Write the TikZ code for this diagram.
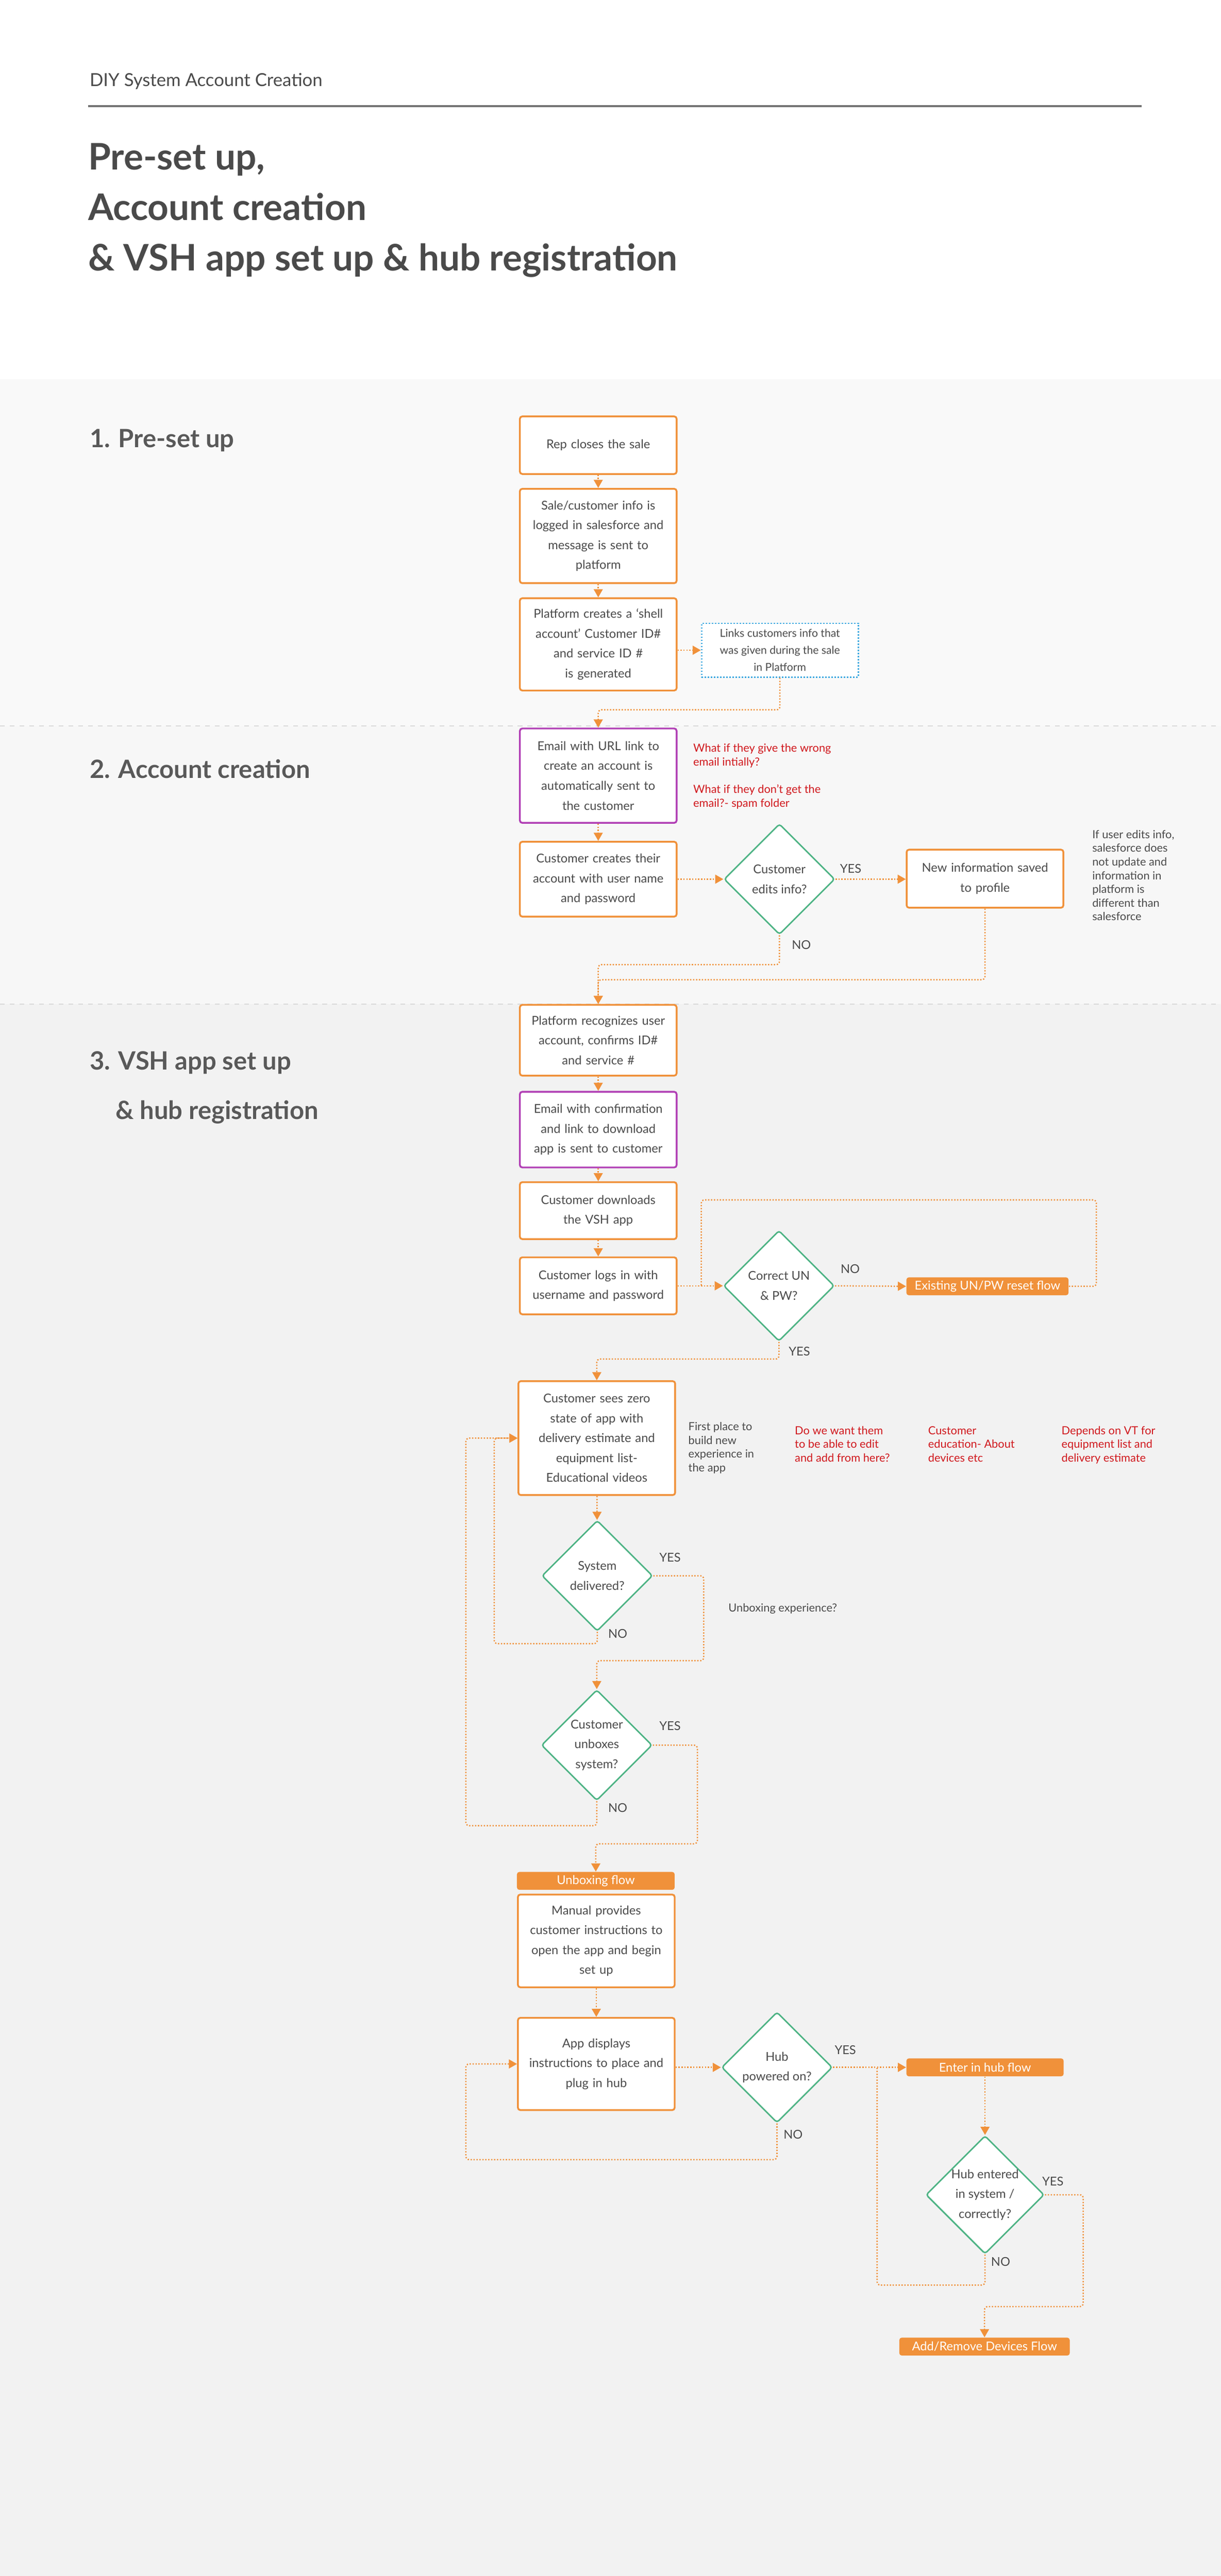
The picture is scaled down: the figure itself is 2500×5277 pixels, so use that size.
\documentclass[tikz,border=0pt]{standalone}
\usepackage{fontspec}
\setmainfont{Lato}
\usetikzlibrary{shapes.geometric,arrows.meta}
\definecolor{orng}{HTML}{F0913A}
\definecolor{grn}{HTML}{4DB384}
\definecolor{purp}{HTML}{B13FB5}
\definecolor{blu}{HTML}{3DA8E0}
\definecolor{redt}{HTML}{D0181D}
\definecolor{txt}{HTML}{4A4A4A}
\definecolor{bgA}{HTML}{F9F9F9}
\definecolor{bgB}{HTML}{F7F7F7}
\definecolor{bgC}{HTML}{F2F2F2}
\begin{document}
\begin{tikzpicture}[x=0.3pt,y=-0.3pt,
  every node/.style={text=txt},
  bfont/.style={font=\fontsize{7.5}{12.2}\selectfont},
  box/.style={bfont,draw=orng,line width=1.1pt,fill=white,rounded corners=1.5pt,minimum width=96.3pt,text width=94pt,inner xsep=1pt,align=center},
  pbox/.style={box,draw=purp},
  fbox/.style={bfont,fill=orng,text=white,rounded corners=1.5pt,minimum width=96.9pt,minimum height=11pt,inner sep=0pt,align=center},
  dia/.style={bfont,diamond,draw=grn,line width=0.9pt,fill=white,minimum width=68pt,minimum height=68pt,inner sep=0pt,align=center,rounded corners=1.5pt},
  conn/.style={draw=orng,densely dotted,line width=0.8pt,rounded corners=2pt},
  arr/.style={conn,-{Triangle[length=5pt,width=5.5pt]}},
  lbl/.style={bfont},
  note/.style={font=\fontsize{6.9}{8.4}\selectfont,align=left,anchor=north west,inner sep=0pt},
  rnote/.style={note,text=redt},
  head/.style={font=\fontsize{15.5}{18}\selectfont\bfseries,text=black!65,anchor=west,inner sep=0pt}]
\useasboundingbox (0,0) rectangle (2500,5277);
% backgrounds
\fill[white] (0,0) rectangle (2500,777);
\fill[bgA] (0,777) rectangle (2500,1487);
\fill[bgB] (0,1487) rectangle (2500,2057);
\fill[bgC] (0,2057) rectangle (2500,5277);
\draw[black!15,dashed,line width=0.6pt] (0,1487) -- (2500,1487);
\draw[black!15,dashed,line width=0.6pt] (0,2057) -- (2500,2057);
% header
\node[anchor=west,inner sep=0pt,font=\fontsize{11}{13}\selectfont] (hdr) at (183,166) {DIY System Account Creation};
\draw[black!55,line width=1.2pt] (180,217) -- (2338,217);
\node[anchor=north west,inner sep=0pt,align=left,font=\fontsize{22.5}{31}\selectfont\bfseries] (ttl) at (180,293) {Pre-set up,\\Account creation\\\& VSH app set up \& hub registration};
\node[head] (h1) at (183,902) {1. Pre-set up};
\node[head] (h2) at (183,1575) {2. Account creation};
\node[head] (h3) at (183,2177) {3. VSH app set up};
\node[head] (h3b) at (236,2278) {\& hub registration};
% section 1
\node[box,minimum height=35.4pt] (b1) at (1225,912) {Rep closes the sale};
\node[box,minimum height=58pt] (b2) at (1225,1098) {Sale/customer info is\\logged in salesforce and\\message is sent to\\platform};
\node[box,minimum height=56.7pt] (b3) at (1225,1320) {Platform creates a `shell\\account' Customer ID\#\\and service ID \#\\is generated};
\node[bfont,draw=blu,densely dotted,line width=0.9pt,fill=white,minimum width=96.3pt,minimum height=33pt,align=center,font=\fontsize{6.7}{10.4}\selectfont] (bl) at (1597,1332) {Links customers info that\\was given during the sale\\in Platform};
\draw[arr] (b1) -- (b2);
\draw[arr] (b2) -- (b3);
\draw[arr] (b3.east |- bl.west) -- (bl.west);
\coordinate (k1) at (0,1454);
\node[pbox,minimum height=58pt] (e1) at (1225,1589) {Email with URL link to\\create an account is\\automatically sent to\\the customer};
\draw[arr] (bl.south) -- (bl.south |- k1) -| (e1.north);
% section 2
\node[rnote] (r1) at (1419,1523) {What if they give the wrong\\email intially?};
\node[rnote] (r2) at (1419,1607) {What if they don't get the\\email?- spam folder};
\node[box,minimum height=46pt] (cc) at (1225,1801) {Customer creates their\\account with user name\\and password};
\node[dia] (d1) at (1596,1801) {Customer\\edits info?};
\node[box,minimum height=35.7pt] (ni) at (2017,1800) {New information saved\\to profile};
\node[note] (n2) at (2236,1700) {If user edits info,\\salesforce does\\not update and\\information in\\platform is\\different than\\salesforce};
\draw[arr] (e1) -- (cc);
\draw[arr] (cc.east) -- (d1.west);
\draw[arr] (d1.east) -- (d1.east -| ni.west);
\node[lbl] (y1) at (1742,1779) {YES};
\node[lbl] (no1) at (1641,1936) {NO};
% section 3
\node[box,minimum height=43.5pt] (rc) at (1225,2131) {Platform recognizes user\\account, confirms ID\#\\and service \#};
\coordinate (k2) at (0,1976);
\coordinate (k3) at (0,2007);
\draw[arr] (d1.south) -- (d1.south |- k2) -| (rc.north);
\draw[arr] (ni.south) -- (ni.south |- k3) -| (rc.north);
\node[pbox,minimum height=46.5pt] (e2) at (1225,2314) {Email with confirmation\\and link to download\\app is sent to customer};
\node[box,minimum height=35pt] (dl) at (1225,2480) {Customer downloads\\the VSH app};
\node[box,minimum height=35pt] (lg) at (1225,2634) {Customer logs in with\\username and password};
\node[dia] (d2) at (1595,2634) {Correct UN\\\& PW?};
\node[fbox,minimum width=99.6pt] (rs) at (2022,2635) {Existing UN/PW reset flow};
\draw[arr] (rc) -- (e2);
\draw[arr] (e2) -- (dl);
\draw[arr] (dl) -- (lg);
\draw[arr] (lg.east) -- (d2.west);
\draw[arr] (d2.east) -- (rs.west);
\coordinate (k4) at (2245,2458);
\coordinate (k5) at (1436,2634);
\draw[conn] (rs.east) -| (k4) -| (k5);
\node[lbl] (no2) at (1741,2599) {NO};
\node[lbl] (y2) at (1637,2768) {YES};
\node[box,minimum height=70pt] (zs) at (1222,2946) {Customer sees zero\\state of app with\\delivery estimate and\\equipment list-\\Educational videos};
\coordinate (k6) at (0,2784);
\draw[arr] (d2.south) -- (d2.south |- k6) -| (zs.north);
\node[note] (n3) at (1409,2913) {First place to\\build new\\experience in\\the app};
\node[rnote] (r3) at (1627,2921) {Do we want them\\to be able to edit\\and add from here?};
\node[rnote] (r4) at (1900,2921) {Customer\\education- About\\devices etc};
\node[rnote] (r5) at (2173,2921) {Depends on VT for\\equipment list and\\delivery estimate};
\node[dia] (d3) at (1223,3228) {System\\delivered?};
\node[dia] (d4) at (1222,3575) {Customer\\unboxes\\system?};
\draw[arr] (zs) -- (d3);
\coordinate (k7) at (1441,3402);
\draw[arr] (d3.east) -| (k7) -| (d4.north);
\coordinate (k8) at (1012,3367);
\draw[arr] (d3.south) |- (k8) |- (zs.west);
\node[lbl] (y3) at (1372,3190) {YES};
\node[lbl] (no3) at (1265,3347) {NO};
\node[note,anchor=west] (n4) at (1491,3295) {Unboxing experience?};
\node[fbox,minimum width=96.9pt] (uf) at (1220,3853) {Unboxing flow};
\coordinate (k9) at (1428,3777);
\draw[arr] (d4.east) -| (k9) -| (uf.north);
\coordinate (k10) at (954,3740);
\draw[arr] (d4.south) |- (k10) |- (zs.west);
\node[lbl] (y4) at (1372,3536) {YES};
\node[lbl] (no4) at (1265,3703) {NO};
\node[box,minimum height=57pt] (mn) at (1221,3976) {Manual provides\\customer instructions to\\open the app and begin\\set up};
\node[box,minimum height=56.7pt] (ap) at (1221,4228) {App displays\\instructions to place and\\plug in hub};
\draw[arr] (mn) -- (ap);
\node[dia] (d5) at (1591,4235) {Hub\\powered on?};
\node[fbox,minimum width=96.6pt] (eh) at (2017,4235) {Enter in hub flow};
\draw[arr] (ap.east |- d5.west) -- (d5.west);
\draw[arr] (d5.east) -- (eh.west);
\coordinate (k11) at (954,4424);
\draw[arr] (d5.south) |- (k11) |- (ap.west);
\node[lbl] (y5) at (1731,4199) {YES};
\node[lbl] (no5) at (1624,4372) {NO};
\node[dia] (d6) at (2017,4496) {Hub entered\\in system /\\correctly?};
\draw[arr] (eh) -- (d6);
\node[fbox,minimum width=104.7pt] (ar) at (2016,4807) {Add/Remove Devices Flow};
\coordinate (k12) at (2218,4725);
\draw[arr] (d6.east) -| (k12) -| (ar.north);
\coordinate (k13) at (1796,4681);
\draw[conn] (d6.south) |- (k13) -- (k13 |- d5.east);
\node[lbl] (y6) at (2156,4468) {YES};
\node[lbl] (no6) at (2049,4633) {NO};
\end{tikzpicture}
\end{document}
